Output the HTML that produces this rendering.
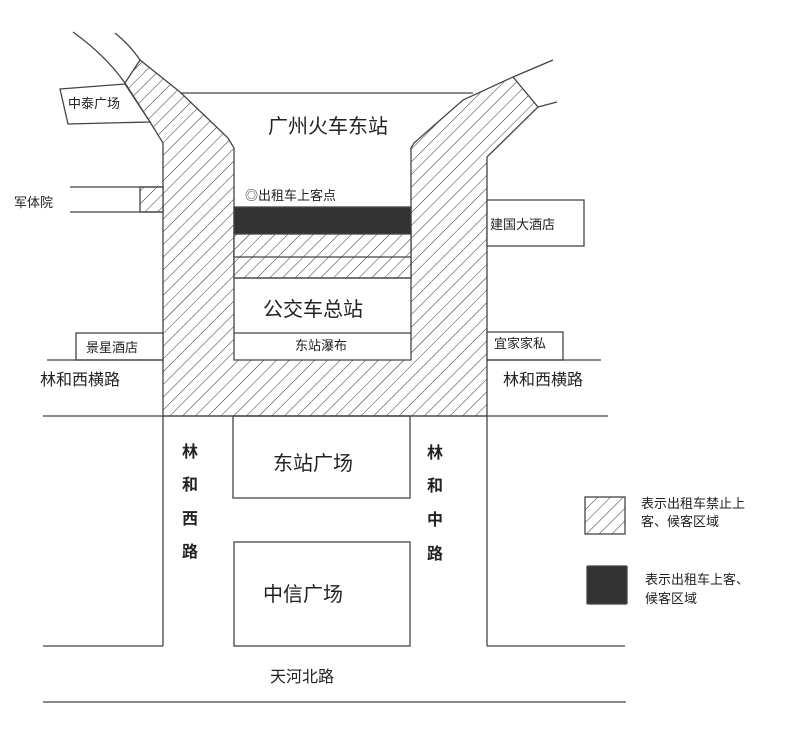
<!DOCTYPE html>
<html><head><meta charset="utf-8"><style>
html,body{margin:0;padding:0;background:#fff}
svg text{font-family:"Liberation Sans","Noto Sans CJK SC",sans-serif;fill:#222}
</style></head><body>
<svg width="800" height="736" viewBox="0 0 800 736" xmlns="http://www.w3.org/2000/svg">
<defs>
<pattern id="h" patternUnits="userSpaceOnUse" width="9" height="9" patternTransform="rotate(45)">
<rect width="9" height="9" fill="#fff"/><line x1="0" y1="0" x2="0" y2="9" stroke="#333" stroke-width="1"/>
</pattern>
</defs>
<g stroke="#444" stroke-width="1.3" fill="none">
<!-- hatched U region -->
<path d="M125,83 L140,60 L180,92 L228,138 L234,148 L234,360 L411,360 L411,148 L414,143 L463,100 L513,77 L538,107 L487,157 L487,416 L163,416 L163,143 L150,122 Z" fill="url(#h)"/>
<!-- curves top -->
<path d="M73,32 Q105,55 125,83"/>
<path d="M115,33 Q130,45 140,60"/>
<path d="M513,77 L553,60"/>
<path d="M538,107 L557,102"/>
<!-- station top line -->
<line x1="180" y1="93" x2="473" y2="93"/>
<!-- 军体院 -->
<rect x="140" y="187" width="23" height="25" fill="url(#h)"/>
<line x1="70" y1="187" x2="163" y2="187"/>
<line x1="70" y1="212" x2="163" y2="212"/>
<!-- 中泰广场 -->
<path d="M60,89 L125,84 L150,122 L68,124 Z" fill="#fff"/>
<!-- inner bands -->
<rect x="234" y="207" width="177" height="27" fill="#333"/>
<rect x="234" y="234" width="177" height="44" fill="url(#h)"/>
<line x1="234" y1="257" x2="411" y2="257"/>
<line x1="234" y1="278" x2="411" y2="278"/>
<line x1="234" y1="333" x2="411" y2="333"/>
<!-- left buildings -->
<rect x="76" y="333" width="87" height="27" fill="#fff"/>
<line x1="47" y1="360" x2="163" y2="360"/>
<!-- right buildings -->
<rect x="487" y="200" width="97" height="46" fill="#fff"/>
<rect x="487" y="332" width="76" height="28" fill="#fff"/>
<line x1="487" y1="360" x2="601" y2="360"/>
<!-- roads -->
<line x1="43" y1="416" x2="608" y2="416"/>
<line x1="163" y1="416" x2="163" y2="646"/>
<line x1="487" y1="416" x2="487" y2="646"/>
<line x1="43" y1="646" x2="163" y2="646"/>
<line x1="487" y1="646" x2="625" y2="646"/>
<line x1="43" y1="702" x2="626" y2="702"/>
<rect x="233" y="416" width="177" height="82"/>
<rect x="234" y="542" width="176" height="104"/>
<!-- legend -->
<rect x="585" y="497" width="40" height="37" fill="url(#h)"/>
<rect x="587" y="566" width="40" height="38" fill="#333" rx="1"/>
</g>
<g font-size="13">
<text x="68" y="108">中泰广场</text>
<text x="14" y="207">军体院</text>
<text x="245" y="200">◎出租车上客点</text>
<text x="490" y="229">建国大酒店</text>
<text x="86" y="352">景星酒店</text>
<text x="295" y="350">东站瀑布</text>
<text x="494" y="348">宜家家私</text>
<text x="641" y="508">表示出租车禁止上</text>
<text x="641" y="526">客、候客区域</text>
<text x="645" y="584">表示出租车上客、</text>
<text x="645" y="603">候客区域</text>
</g>
<g font-size="16">
<text x="40" y="385">林和西横路</text>
<text x="503" y="385">林和西横路</text>
<text x="270" y="682">天河北路</text>
</g>
<g font-size="20">
<text x="268" y="133">广州火车东站</text>
<text x="263" y="316">公交车总站</text>
<text x="273" y="470">东站广场</text>
<text x="263" y="601">中信广场</text>
</g>
<g font-size="16" font-weight="bold">
<text x="182" y="457">林</text><text x="182" y="490">和</text><text x="182" y="524">西</text><text x="182" y="557">路</text>
<text x="427" y="458">林</text><text x="427" y="491">和</text><text x="427" y="525">中</text><text x="427" y="559">路</text>
</g>
</svg>
</body></html>
